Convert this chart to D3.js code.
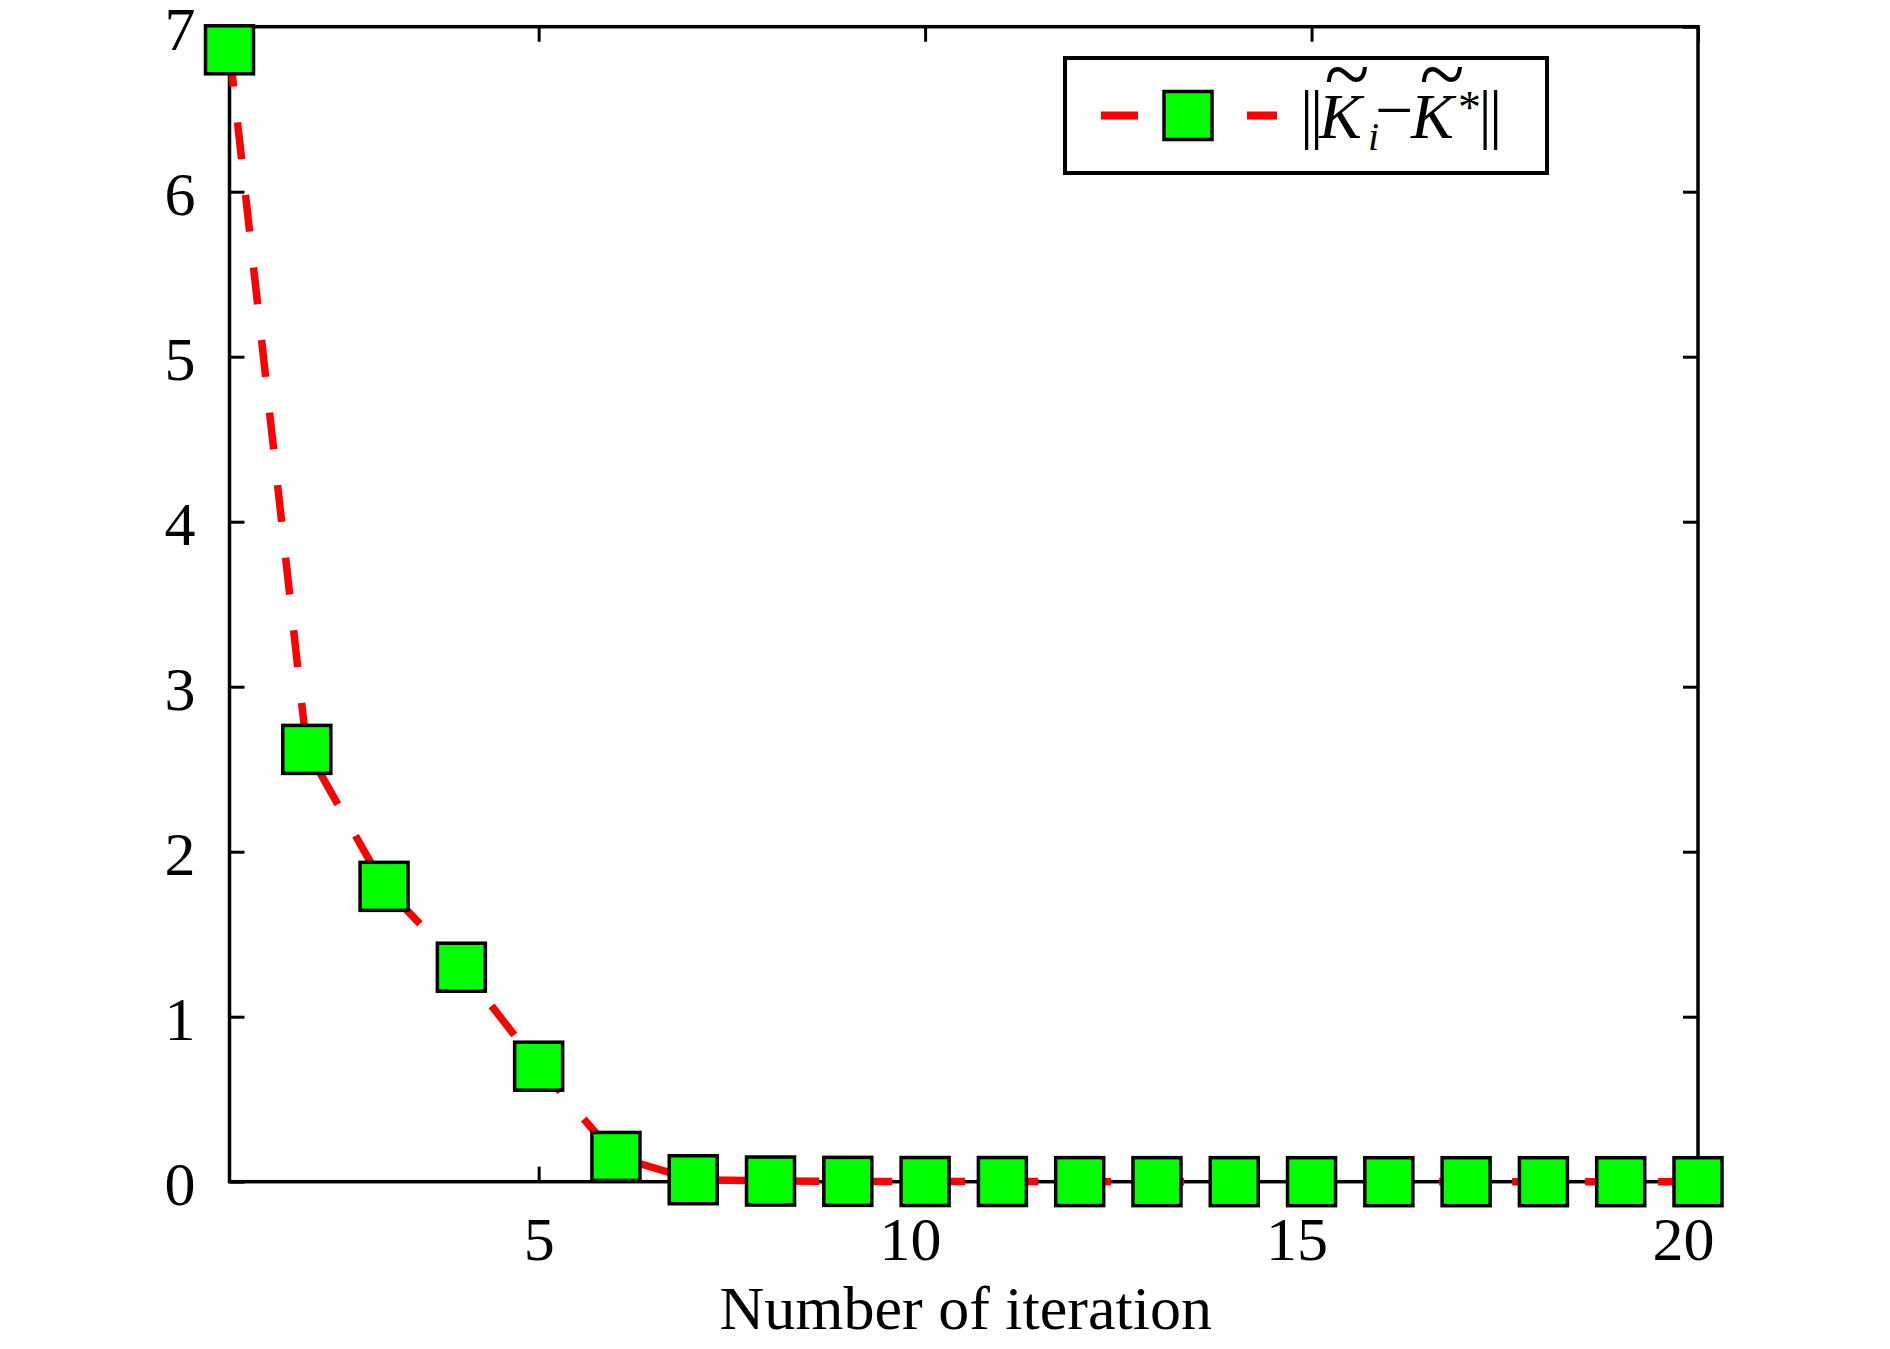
<!DOCTYPE html>
<html>
<head>
<meta charset="utf-8">
<script src="https://cdn.jsdelivr.net/npm/d3@7"></script>
<style>
  body { margin: 0; background: #fff; }
  text { font-family: "Liberation Serif", "Times New Roman", serif; fill: #000; }
</style>
</head>
<body>
<div id="chart"></div>
<script>
// data
var iterations = [1, 2, 3, 4, 5, 6, 7, 8, 9, 10, 11, 12, 13, 14, 15, 16, 17, 18, 19, 20];
var errNorm = [6.86, 2.62, 1.79, 1.30, 0.70, 0.153, 0.012, 0.004, 0.002, 0.001,
               0.001, 0.0005, 0.0003, 0.0002, 0.0001, 0, 0, 0, 0, 0];
var xTicks = [5, 10, 15, 20];
var yTicks = [0, 1, 2, 3, 4, 5, 6, 7];
var xLabel = "Number of iteration";

var svgWidth = 1890;
var svgHeight = 1349;

var margin = {
  top: 26.7,
  right: 192,
  bottom: 167.3,
  left: 229.5
};

var width = svgWidth - margin.left - margin.right;
var height = svgHeight - margin.top - margin.bottom;

var svg = d3.select("#chart")
  .append("svg")
  .attr("width", svgWidth)
  .attr("height", svgHeight);

svg.append("rect")
  .attr("width", svgWidth)
  .attr("height", svgHeight)
  .attr("fill", "#fff");

var chart = svg.append("g")
  .attr("transform", `translate(${margin.left}, ${margin.top})`);

var xScale = d3.scaleLinear()
  .domain([1, 20])
  .range([0, width]);

var yScale = d3.scaleLinear()
  .domain([0, 7])
  .range([height, 0]);

var tickLen = 15;

// box axes, ticks pointing inward on all four sides
var bottomAxis = d3.axisBottom(xScale).tickValues(xTicks).tickSize(-tickLen).tickPadding(34).tickFormat(d3.format("d"));
var topAxis = d3.axisTop(xScale).tickValues(xTicks).tickSize(-tickLen).tickFormat("");
var leftAxis = d3.axisLeft(yScale).tickValues(yTicks).tickSize(-tickLen).tickPadding(34).tickFormat(d3.format("d"));
var rightAxis = d3.axisRight(yScale).tickValues(yTicks).tickSize(-tickLen).tickFormat("");

function styleAxis(g) {
  g.select(".domain").remove();
  g.selectAll(".tick line").attr("stroke", "#000").attr("stroke-width", 3);
  g.selectAll(".tick text")
    .style("font-family", "'Liberation Serif', serif")
    .style("font-size", "62px")
    .attr("fill", "#000");
}

chart.append("g")
  .attr("transform", `translate(0, ${height})`)
  .call(bottomAxis)
  .call(styleAxis)
  .selectAll(".tick text")
  .attr("dy", "0.71em")
  .attr("dx", d => -(String(d).length - 1) * 15);

chart.append("g")
  .call(topAxis)
  .call(styleAxis);

chart.append("g")
  .call(leftAxis)
  .call(styleAxis)
  .selectAll(".tick text")
  .attr("dy", "0.36em");

chart.append("g")
  .attr("transform", `translate(${width}, 0)`)
  .call(rightAxis)
  .call(styleAxis);

chart.append("rect")
  .attr("width", width)
  .attr("height", height)
  .attr("fill", "none")
  .attr("stroke", "#000")
  .attr("stroke-width", 3.5);

// dashed red line, then the square markers
var line = d3.line()
  .x((d, i) => xScale(iterations[i]))
  .y(d => yScale(d));

chart.append("path")
  .datum(errNorm)
  .attr("d", line)
  .attr("fill", "none")
  .attr("stroke", "#ff0000")
  .attr("stroke-width", 7.5)
  .attr("stroke-dasharray", "37,36");

var mSize = 48;

chart.selectAll(".marker")
  .data(errNorm)
  .enter()
  .append("rect")
  .attr("class", "marker")
  .attr("x", (d, i) => xScale(iterations[i]) - mSize / 2)
  .attr("y", d => yScale(d) - mSize / 2)
  .attr("width", mSize)
  .attr("height", mSize)
  .attr("fill", "#00ff00")
  .attr("stroke", "#000")
  .attr("stroke-width", 3.5);

chart.append("text")
  .attr("x", width / 2 + 2)
  .attr("y", height + 147)
  .attr("text-anchor", "middle")
  .style("font-size", "62px")
  .text(xLabel);

// legend
var legend = svg.append("g")
  .attr("transform", "translate(1065, 58)");

legend.append("rect")
  .attr("width", 482)
  .attr("height", 115)
  .attr("fill", "#fff")
  .attr("stroke", "#000")
  .attr("stroke-width", 4);

legend.append("line")
  .attr("x1", 36)
  .attr("x2", 212)
  .attr("y1", 57.5)
  .attr("y2", 57.5)
  .attr("stroke", "#ff0000")
  .attr("stroke-width", 8)
  .attr("stroke-dasharray", "37,36");

legend.append("rect")
  .attr("x", 123 - mSize / 2)
  .attr("y", 57.5 - mSize / 2)
  .attr("width", mSize)
  .attr("height", mSize)
  .attr("fill", "#00ff00")
  .attr("stroke", "#000")
  .attr("stroke-width", 3.5);

// label ||K~_i - K~*|| set piece by piece
var lab = legend.append("g").attr("class", "legend-label");

[241.5, 251.5, 420, 430.5].forEach(function (bx) {
  lab.append("text")
    .attr("x", bx)
    .attr("y", 77.5)
    .attr("text-anchor", "middle")
    .style("font-size", "66px")
    .text("|");
});

lab.append("text").attr("x", 254).attr("y", 80)
  .style("font-size", "64px").style("font-style", "italic").text("K");
lab.append("text").attr("x", 303).attr("y", 92)
  .style("font-size", "40px").style("font-style", "italic").text("i");
lab.append("text").attr("x", 310).attr("y", 75)
  .style("font-size", "68px").text("\u2212");
lab.append("text").attr("x", 346).attr("y", 80)
  .style("font-size", "64px").style("font-style", "italic").text("K");
lab.append("text").attr("x", 393).attr("y", 65)
  .style("font-size", "46px").text("*");

[282, 377].forEach(function (tx) {
  lab.append("text")
    .attr("text-anchor", "middle")
    .attr("transform", `translate(${tx}, 46) scale(1.3, 1.4)`)
    .style("font-size", "64px")
    .text("~");
});
</script>
</body>
</html>
